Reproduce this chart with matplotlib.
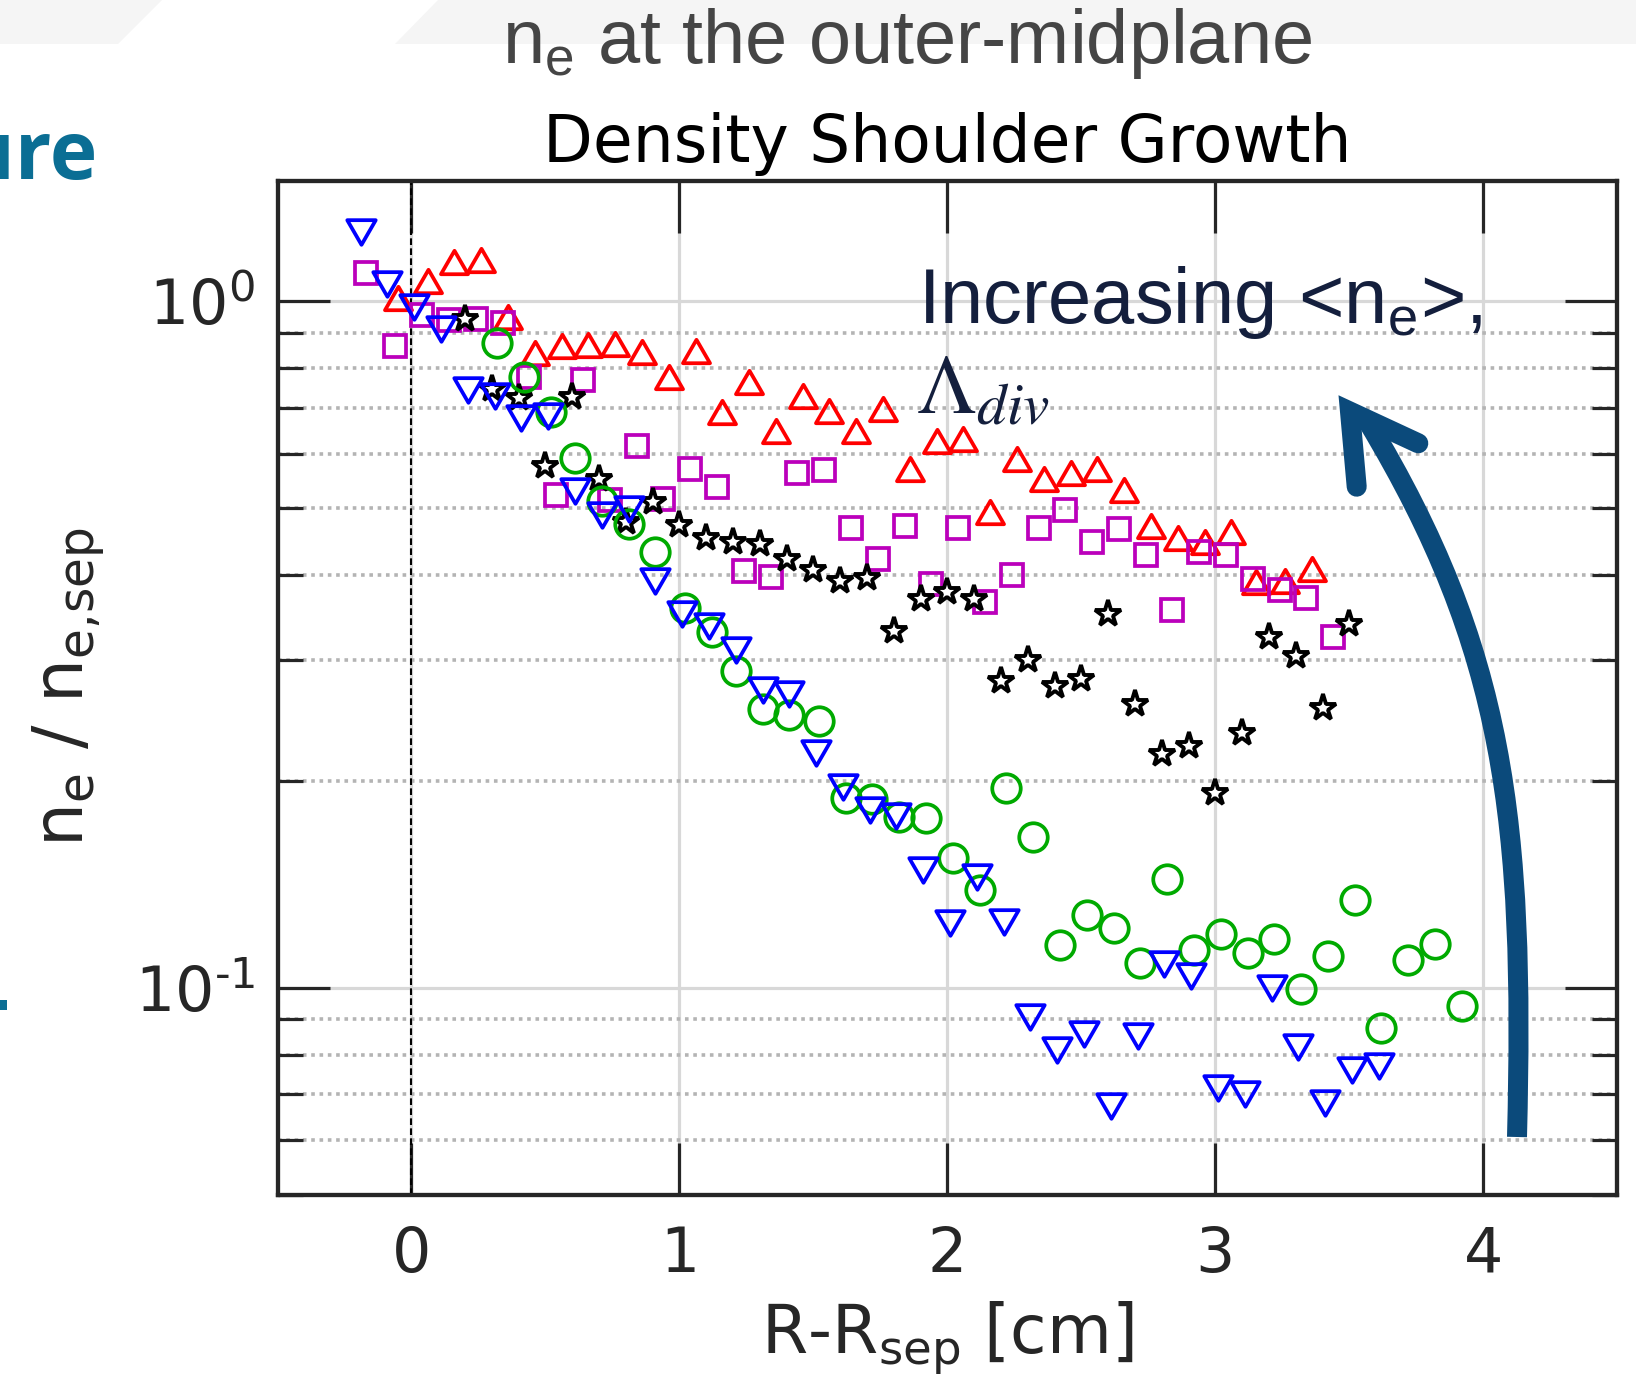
import numpy as np
import matplotlib
matplotlib.use('Agg')
import matplotlib.pyplot as plt
from matplotlib.path import Path
from matplotlib.markers import MarkerStyle
from matplotlib.patches import Polygon, Rectangle, PathPatch
from matplotlib.ticker import LogLocator, NullFormatter, FuncFormatter

plt.rcParams['axes.unicode_minus'] = False

# ---------------- data ----------------
red_x = [-0.05, 0.06, 0.16, 0.26, 0.36, 0.46, 0.56, 0.66, 0.76, 0.86, 0.96, 1.06, 1.16,
         1.26, 1.36, 1.46, 1.56, 1.66, 1.76, 1.86, 1.96, 2.06, 2.16, 2.26, 2.36, 2.46,
         2.56, 2.66, 2.76, 2.86, 2.96, 3.06, 3.15, 3.26, 3.36]
red_y = [1.01, 1.07, 1.14, 1.15, 0.95, 0.84, 0.86, 0.865, 0.867, 0.845, 0.775, 0.848, 0.69,
         0.762, 0.648, 0.729, 0.693, 0.648, 0.697, 0.570, 0.627, 0.630, 0.494, 0.589, 0.552,
         0.562, 0.571, 0.532, 0.471, 0.452, 0.446, 0.461, 0.390, 0.392, 0.407]

mag_x = [-0.17, -0.06, 0.04, 0.14, 0.24, 0.34, 0.44, 0.54, 0.64, 0.74, 0.84, 0.94, 1.04,
         1.14, 1.24, 1.34, 1.44, 1.54, 1.64, 1.74, 1.84, 1.94, 2.04, 2.14, 2.24, 2.34,
         2.44, 2.54, 2.64, 2.74, 2.84, 2.94, 3.04, 3.14, 3.24, 3.34, 3.44]
mag_y = [1.10, 0.862, 0.954, 0.938, 0.943, 0.931, 0.776, 0.522, 0.769, 0.514, 0.615, 0.515,
         0.571, 0.536, 0.405, 0.397, 0.562, 0.569, 0.467, 0.421, 0.471, 0.387, 0.467, 0.365,
         0.399, 0.468, 0.497, 0.446, 0.466, 0.427, 0.355, 0.431, 0.427, 0.394, 0.380, 0.370,
         0.324]

blk_x = [0.20, 0.30, 0.40, 0.50, 0.60, 0.70, 0.80, 0.90, 1.00, 1.10, 1.20, 1.30, 1.40, 1.50,
         1.60, 1.70, 1.80, 1.90, 2.00, 2.10, 2.20, 2.30, 2.40, 2.50, 2.60, 2.70, 2.80, 2.90,
         3.00, 3.10, 3.20, 3.30, 3.40, 3.50]
blk_y = [0.943, 0.746, 0.723, 0.576, 0.725, 0.552, 0.477, 0.511, 0.472, 0.452, 0.446, 0.444,
         0.422, 0.406, 0.392, 0.395, 0.331, 0.368, 0.377, 0.369, 0.280, 0.300, 0.275, 0.282,
         0.350, 0.259, 0.219, 0.225, 0.192, 0.235, 0.324, 0.304, 0.256, 0.339]

grn_x = [0.32, 0.42, 0.52, 0.61, 0.71, 0.81, 0.91, 1.02, 1.12, 1.21, 1.31, 1.41, 1.52, 1.62,
         1.72, 1.82, 1.92, 2.02, 2.12, 2.22, 2.32, 2.42, 2.52, 2.62, 2.72, 2.82, 2.92, 3.02,
         3.12, 3.22, 3.32, 3.42, 3.52, 3.62, 3.72, 3.82, 3.92]
grn_y = [0.870, 0.776, 0.690, 0.591, 0.512, 0.474, 0.432, 0.358, 0.330, 0.2896, 0.2545,
         0.2494, 0.245, 0.189, 0.1885, 0.1775, 0.177, 0.1547, 0.1387, 0.1956, 0.1657, 0.1156,
         0.1278, 0.1223, 0.1089, 0.1442, 0.1137, 0.120, 0.1126, 0.1178, 0.0998, 0.1113,
         0.1344, 0.0874, 0.110, 0.1159, 0.0942]

blu_x = [-0.19, -0.09, 0.01, 0.11, 0.21, 0.31, 0.41, 0.51, 0.61, 0.71, 0.81, 0.91, 1.01,
         1.11, 1.21, 1.31, 1.41, 1.51, 1.61, 1.71, 1.81, 1.91, 2.01, 2.11, 2.21, 2.31, 2.41,
         2.51, 2.61, 2.71, 2.81, 2.91, 3.01, 3.11, 3.21, 3.31, 3.41, 3.51, 3.61]
blu_y = [1.262, 1.061, 0.981, 0.912, 0.744, 0.729, 0.676, 0.682, 0.530, 0.489, 0.498, 0.392,
         0.350, 0.337, 0.311, 0.272, 0.268, 0.220, 0.196, 0.1815, 0.178, 0.1486, 0.1243,
         0.145, 0.1246, 0.0908, 0.0811, 0.0857, 0.0673, 0.0851, 0.1084, 0.104, 0.0714,
         0.070, 0.0999, 0.082, 0.0679, 0.076, 0.077]

x_ticks = [0, 1, 2, 3, 4]

# ---------------- figure ----------------
W, H = 1636, 1396
fig = plt.figure(figsize=(W / 100, H / 100), dpi=100, facecolor='white')
ax = fig.add_axes([277.5 / W, 1 - 1194.7 / H, (1617.3 - 277.5) / W, (1194.7 - 180.5) / H])
ax.set_yscale('log')
ax.set_xlim(-0.5, 4.5)
ax.set_ylim(0.05, 1.5)

dark = '#262626'


def decade_label(v, pos):
    e = int(round(np.log10(v)))
    s = str(e).replace('-', '\u2010')
    return r'$\mathdefault{10^{%s}}$' % s


ax.set_xticks(x_ticks)
ax.yaxis.set_major_locator(LogLocator(base=10, numticks=10))
ax.yaxis.set_major_formatter(FuncFormatter(decade_label))
ax.yaxis.set_minor_locator(LogLocator(base=10, subs=np.arange(2, 10), numticks=20))
ax.yaxis.set_minor_formatter(NullFormatter())
ax.tick_params(which='both', direction='in', top=True, right=True, color=dark,
               labelcolor=dark)
ax.tick_params(which='major', length=37.5, width=2.3, labelsize=44.5)
ax.tick_params(which='minor', length=18, width=2.3)
ax.tick_params(axis='x', which='major', pad=22)
ax.tick_params(axis='y', which='major', pad=16)
for s in ax.spines.values():
    s.set_linewidth(3.1)
    s.set_color(dark)

ax.set_axisbelow(True)
ax.grid(True, which='major', color='#d8d8d8', lw=2.3)
ax.grid(True, which='minor', axis='y', color='#b4b4b4', lw=2.6, linestyle=(0, (1, 1.3)))
ax.axvline(0, color='black', lw=1.5, ls=(0, (3.2, 1.6)), zorder=1.5)

tri_up = MarkerStyle(Path([(0, 0.866), (-1, -0.866), (1, -0.866), (0, 0.866)], closed=True),
                     joinstyle='miter')
tri_dn = MarkerStyle(Path([(0, -0.866), (-1, 0.866), (1, 0.866), (0, -0.866)], closed=True),
                     joinstyle='miter')

mew = 2.7
ax.plot(red_x, red_y, ls='none', marker=tri_up, ms=19.5, mfc='none', mec='#ff0000',
        mew=mew, zorder=3)
ax.plot(mag_x, mag_y, ls='none', marker='s', ms=16.5, mfc='none', mec='#bb00bb',
        mew=mew, zorder=3)
ax.plot(blk_x, blk_y, ls='none', marker='*', ms=20, mfc='white', mec='black',
        mew=2.8, zorder=3)
ax.plot(grn_x, grn_y, ls='none', marker='o', ms=20.5, mfc='none', mec='#00aa00',
        mew=mew, zorder=3)
ax.plot(blu_x, blu_y, ls='none', marker=tri_dn, ms=20.5, mfc='none', mec='#0000ff',
        mew=mew, zorder=3)

ax.set_title('Density Shoulder Growth', fontsize=46.5, pad=13, color='black')
ax.set_xlabel('R-R$_\\mathregular{sep}$ [cm]', fontsize=48, color=dark)
ax.xaxis.set_label_coords(0.5, -0.1038)
ax.set_ylabel('n$_\\mathregular{e}$ / n$_\\mathregular{e{,}sep}$', fontsize=50, color=dark)
ax.yaxis.set_label_coords(-0.127, 0.5)

# ---------------- overlay (slide decorations, annotation, arrow) ----------------
ov = fig.add_axes([0, 0, 1, 1], zorder=10)
ov.set_xlim(0, W)
ov.set_ylim(H, 0)
ov.axis('off')
ov.patch.set_alpha(0)

band = '#f5f5f5'
ov.add_patch(Polygon([(0, 0), (162, 0), (118, 44), (0, 44)], closed=True, color=band, lw=0))
ov.add_patch(Polygon([(438, 0), (W, 0), (W, 44), (395, 44)], closed=True, color=band, lw=0))

ov.text(907, 63, 'n$_\\mathregular{e}$ at the outer-midplane', fontsize=54.5,
        family=['Liberation Sans', 'DejaVu Sans'], color='#454545', ha='center',
        va='baseline')
ov.text(97, 179.3, 'ure', fontsize=58, family=['Open Sans', 'DejaVu Sans'],
        fontweight='bold', color='#0b6e94', ha='right', va='baseline')
ov.add_patch(Rectangle((0, 1000), 7, 10, color='#0b6e94', lw=0))

navy = '#141f3d'
ov.text(918, 323.3, 'Increasing <$\\mathregular{n_e}$>,', fontsize=56,
        family=['Liberation Sans', 'DejaVu Sans'], color=navy, ha='left', va='baseline')
ov.text(916, 413, r'$\Lambda_{div}$', fontsize=61, math_fontfamily='stix', color=navy,
        ha='left', va='baseline')

acol = '#0b4a7b'
shaft = Path([(1517, 1137), (1525, 820), (1505, 650), (1368, 422)],
             [Path.MOVETO, Path.CURVE4, Path.CURVE4, Path.CURVE4])
ov.add_patch(PathPatch(shaft, fc='none', ec=acol, lw=14.4, capstyle='butt'))
ov.plot([1356.7, 1350, 1418.3], [486.7, 411.6, 443.3], color=acol, lw=14.4,
        solid_joinstyle='miter', solid_capstyle='round')

fig.savefig('out.png', dpi=100, facecolor='white')
